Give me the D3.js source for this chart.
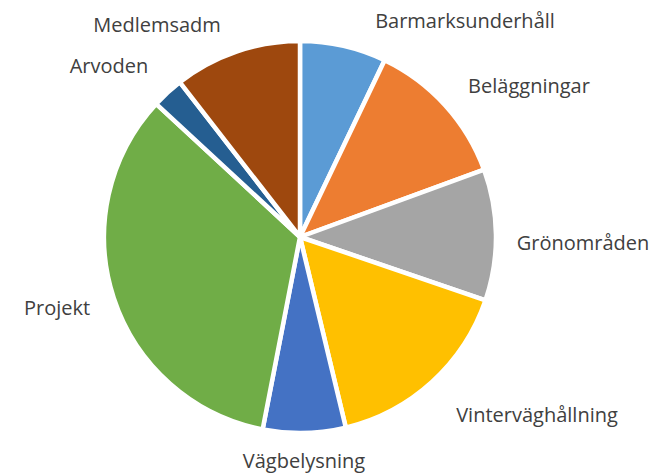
<!DOCTYPE html>
<html>
<head>
<meta charset="utf-8">
<script src="https://cdn.jsdelivr.net/npm/d3@7"></script>
<style>
  body { margin: 0; background: #fff; }
  svg { display: block; }
</style>
</head>
<body>
<svg width="658" height="476"></svg>
<script>
const width = 658, height = 476;
const svg = d3.select("svg");

// categories and values (share of total)
const categories = ["Barmarksunderhåll", "Beläggningar", "Grönområden", "Vinterväghållning",
                    "Vägbelysning", "Projekt", "Arvoden", "Medlemsadm"];
const values = [7.1, 12.3, 10.8, 16.0, 6.8, 33.8, 2.6, 10.5];
const colors = ["#5B9BD5", "#ED7D31", "#A5A5A5", "#FFC000", "#4472C4", "#70AD47", "#255E91", "#9E480E"];

// label centres (layout only)
const labelPos = [[465, 28], [529, 93], [583, 250], [537, 422], [304, 468], [57, 315], [109, 73], [157, 32]];

const cx = 300, cy = 237, radius = 196;

const data = categories.map((c, i) => ({ name: c, value: values[i] }));

const pie = d3.pie().sort(null).value(d => d.value);
const arc = d3.arc().innerRadius(0).outerRadius(radius);

const g = svg.append("g").attr("transform", `translate(${cx},${cy})`);

g.selectAll("path")
    .data(pie(data))
    .enter().append("path")
    .attr("d", arc)
    .attr("fill", (d, i) => colors[i])
    .attr("stroke", "#fff")
    .attr("stroke-width", 4.5)
    .attr("stroke-linejoin", "round");

svg.selectAll(".label")
    .data(data)
    .enter().append("text")
    .attr("class", "label")
    .attr("x", (d, i) => labelPos[i][0])
    .attr("y", (d, i) => labelPos[i][1])
    .attr("text-anchor", "middle")
    .style("font-family", "'Open Sans', sans-serif")
    .style("font-size", "20px")
    .style("fill", "#404040")
    .text(d => d.name);
</script>
</body>
</html>
